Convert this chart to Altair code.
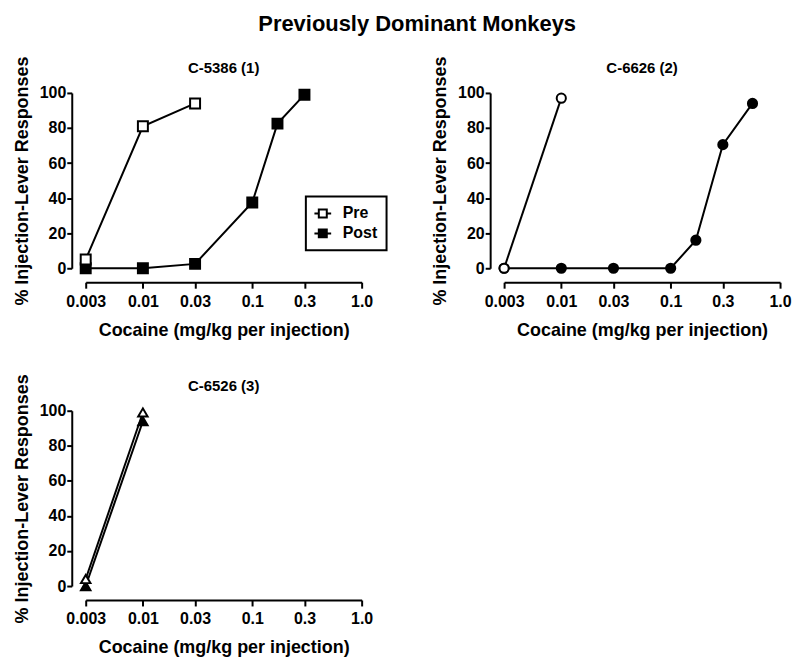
import altair as alt
import pandas as pd

FONT = "Liberation Sans"

# tick values / labels
X_TICKS = [0.003, 0.01, 0.03, 0.1, 0.3, 1.0]
Y_TICKS = [0, 20, 40, 60, 80, 100]

# Panel 1: C-5386 (1)  (squares)
p1_pre_dose = [0.003, 0.01, 0.03]
p1_pre_val = [5, 81, 94]
p1_post_dose = [0.003, 0.01, 0.03, 0.1, 0.17, 0.3]
p1_post_val = [0, 0, 2.5, 37.5, 82.5, 99]

# Panel 2: C-6626 (2)  (circles)
p2_pre_dose = [0.003, 0.01]
p2_pre_val = [0, 97]
p2_post_dose = [0.003, 0.01, 0.03, 0.1, 0.17, 0.3, 0.56]
p2_post_val = [0, 0, 0, 0, 16, 70.5, 94]

# Panel 3: C-6526 (3)  (triangles)
p3_pre_dose = [0.003, 0.01]
p3_pre_val = [4, 99]
p3_post_dose = [0.003, 0.01]
p3_post_val = [0, 94]

SYMBOL = "M-2.1,0H-1M1,0H2.1M-1,-1H1V1H-1Z"


def make_df(pre_d, pre_v, post_d, post_v):
    rows = [{"dose": d, "pct": v, "series": "Post"} for d, v in zip(post_d, post_v)]
    rows += [{"dose": d, "pct": v, "series": "Pre"} for d, v in zip(pre_d, pre_v)]
    return pd.DataFrame(rows)


def panel(title, df, shape, size, legend):
    base = alt.Chart(df)
    x = alt.X(
        "dose:Q",
        scale=alt.Scale(type="log", domain=[0.003, 1.0], nice=False),
        axis=alt.Axis(
            values=X_TICKS,
            labelExpr="datum.value >= 1 ? '1.0' : toString(datum.value)",
            title="Cocaine (mg/kg per injection)",
            offset=14,
            tickSize=6,
            labelPadding=5,
            titlePadding=12,
            labelFlush=False,
            labelOverlap=False,
        ),
    )
    y = alt.Y(
        "pct:Q",
        scale=alt.Scale(domain=[0, 100], nice=False),
        axis=alt.Axis(
            values=Y_TICKS,
            title="% Injection-Lever Responses",
            offset=14,
            tickSize=5,
            labelPadding=1,
            titlePadding=8,
            labelFlush=False,
        ),
    )
    lines = base.mark_line(color="black", strokeWidth=2).encode(
        x=x, y=y, detail="series:N"
    )
    pts = base.mark_point(
        shape=shape, filled=True, size=size, stroke="black", strokeWidth=2, opacity=1
    ).encode(
        x=x,
        y=y,
        fill=alt.Fill(
            "series:N",
            scale=alt.Scale(domain=["Pre", "Post"], range=["white", "black"]),
            legend=legend,
        ),
    )
    return alt.layer(lines, pts).properties(
        width=277,
        height=176,
        title=alt.TitleParams(
            title, fontSize=15, font=FONT, fontWeight="bold", anchor="middle",
            frame="group", offset=-20, color="black",
        ),
    )


leg = alt.Legend(
    title=None,
    orient="none",
    legendX=221,
    legendY=104,
    symbolType=SYMBOL,
    symbolSize=64,
    symbolStrokeColor="black",
    symbolStrokeWidth=2,
    labelFont=FONT,
    labelFontSize=16,
    labelFontWeight="bold",
    labelColor="black",
    labelOffset=12,
    strokeColor="black",
    padding=9,
    rowPadding=4,
)

p1 = panel("C-5386 (1)", make_df(p1_pre_dose, p1_pre_val, p1_post_dose, p1_post_val),
           "square", 100, leg)
p2 = panel("C-6626 (2)", make_df(p2_pre_dose, p2_pre_val, p2_post_dose, p2_post_val),
           "circle", 85, None)
p3 = panel("C-6526 (3)", make_df(p3_pre_dose, p3_pre_val, p3_post_dose, p3_post_val),
           "triangle-up", 90, None)

chart = (
    alt.concat(p1, p2, p3, columns=2, spacing=143, bounds="flush")
    .resolve_scale(fill="independent")
    .resolve_legend(fill="independent")
    .properties(
        title=alt.TitleParams(
            "Previously Dominant Monkeys", fontSize=22, font=FONT, fontWeight="bold",
            anchor="middle", dx=15, offset=20, color="black",
        ),
        padding={"left": 4, "top": 3, "right": 0, "bottom": 5},
    )
    .configure_view(stroke="transparent")
    .configure_axis(
        grid=False,
        domainColor="black",
        domainWidth=2,
        tickColor="black",
        tickWidth=2,
        labelFont=FONT,
        labelFontSize=16,
        labelFontWeight="bold",
        labelColor="black",
        titleFont=FONT,
        titleFontSize=18,
        titleFontWeight="bold",
        titleColor="black",
    )
    .configure_legend(strokeWidth=2)
)

chart.save("out.html", embed_options={"renderer": "svg", "actions": False})
